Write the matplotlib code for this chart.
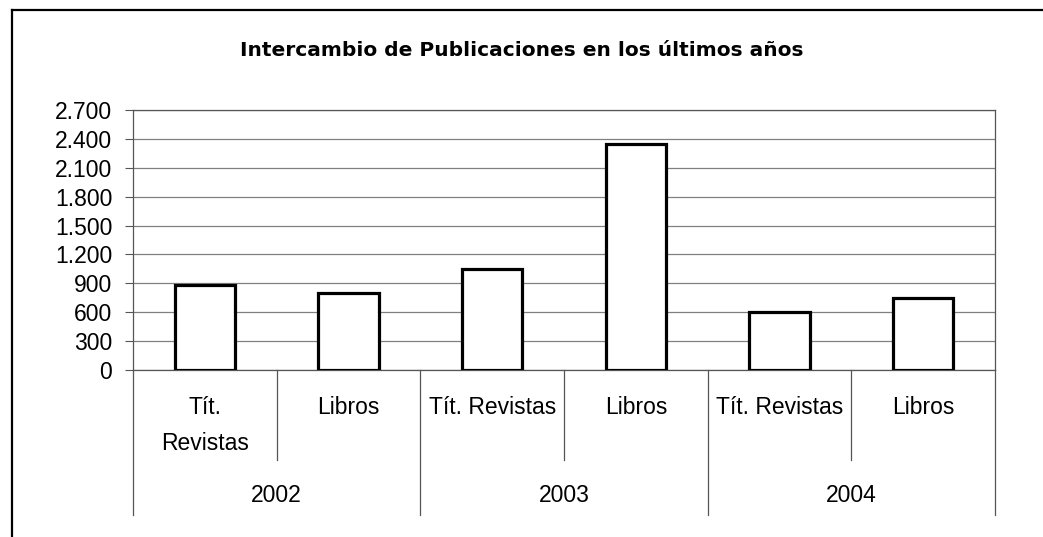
import matplotlib
matplotlib.use("Agg")
import matplotlib.pyplot as plt
from matplotlib.lines import Line2D

# data
years = ["2002", "2003", "2004"]
categories = ["Tít.\nRevistas", "Libros", "Tít. Revistas", "Libros", "Tít. Revistas", "Libros"]
values = [885, 795, 1050, 2350, 600, 745]
y_ticks = [0, 300, 600, 900, 1200, 1500, 1800, 2100, 2400, 2700]
y_labels = ["0", "300", "600", "900", "1.200", "1.500", "1.800", "2.100", "2.400", "2.700"]

W, H = 1043, 537
fig = plt.figure(figsize=(W / 100, H / 100), dpi=100)
fig.patch.set_facecolor("white")

# frame around the chart (only top and left are visible in the crop)
fig.add_artist(Line2D([12 / W, 1], [1 - 10 / H, 1 - 10 / H], color="black", lw=1.6))
fig.add_artist(Line2D([12 / W, 12 / W], [0, 1 - 10 / H], color="black", lw=1.6))

ax = fig.add_axes([133 / W, 1 - 370 / H, (995 - 133) / W, 260 / H])

n = len(categories)
xs = list(range(n))
ax.bar(xs, values, width=0.42, color="white", edgecolor="black", linewidth=2.3, zorder=3)

ax.set_xlim(-0.5, n - 0.5)
ax.set_ylim(0, 2700)
ax.set_yticks(y_ticks)
ax.set_yticklabels(y_labels, fontsize=16.5, family="Liberation Sans")
ax.tick_params(axis="y", length=6, width=0.8, color="#555555", pad=9)
ax.set_xticks([])
ax.yaxis.grid(True, color="#808080", linewidth=0.9)
ax.set_axisbelow(True)
for s in ax.spines.values():
    s.set_color("#555555")
    s.set_linewidth(0.9)

fig.text(0.5, 1 - 50 / H, "Intercambio de Publicaciones en los últimos años",
         ha="center", va="center", fontsize=14.5, fontweight="bold", family="DejaVu Sans")

# multi-level category axis
tr = ax.get_xaxis_transform()
for i, lab in enumerate(categories):
    ax.text(xs[i], -0.1, lab, transform=tr, ha="center", va="top",
            fontsize=16.5, family="Liberation Sans", linespacing=1.7)
per = n // len(years)
for j, yr in enumerate(years):
    mid = (xs[j * per] + xs[j * per + per - 1]) / 2
    ax.text(mid, -0.481, yr, transform=tr, ha="center", va="center",
            fontsize=16.5, family="Liberation Sans")
for k in range(n + 1):
    xb = k - 0.5
    bottom = -0.558 if k % per == 0 else -0.346
    ax.plot([xb, xb], [0, bottom], transform=tr, color="#555555", lw=0.9, clip_on=False)

fig.savefig("out.png", dpi=100)
